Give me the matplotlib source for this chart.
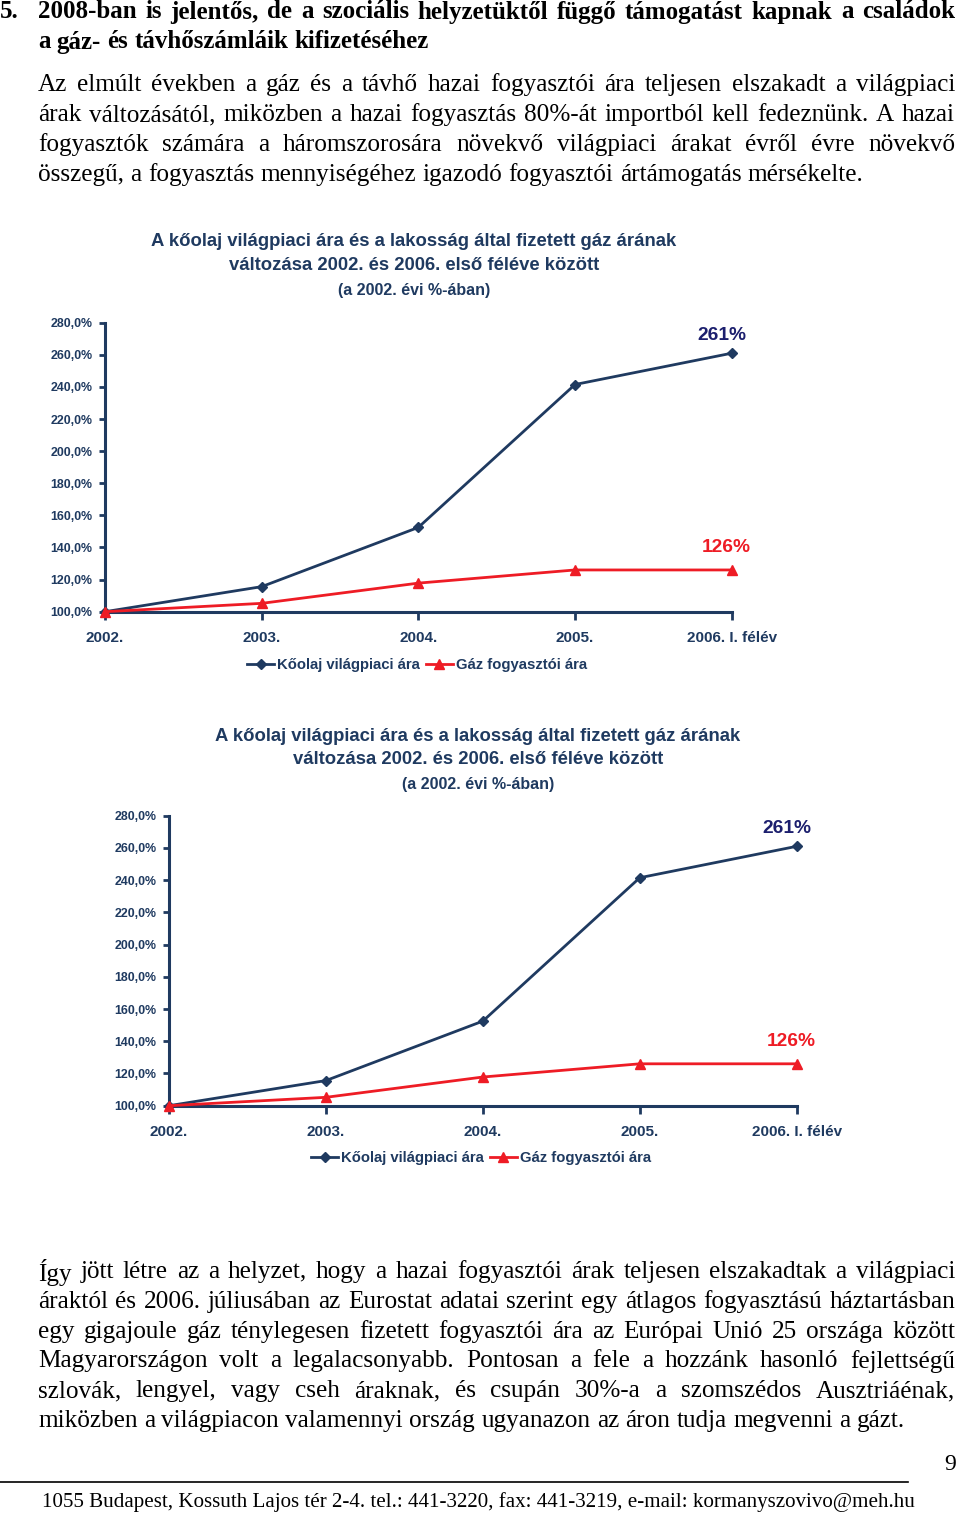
import matplotlib
matplotlib.use("Agg")
import matplotlib.pyplot as plt
from matplotlib.lines import Line2D

W, H = 960, 1515

# adatok
evek = ["2002.", "2003.", "2004.", "2005.", "2006. I. félév"]
olaj = [100, 115.6, 152.5, 241.5, 261]
gaz = [100, 105.2, 117.8, 126, 126]
y_ticks = [100, 120, 140, 160, 180, 200, 220, 240, 260, 280]
y_labels = [f"{v},0%" for v in y_ticks]

cim = ["A kőolaj világpiaci ára és a lakosság által fizetett gáz árának",
       "változása 2002. és 2006. első féléve között"]
alcim = "(a 2002. évi %-ában)"

fejlec = ["2008-ban is jelentős, de a szociális helyzetüktől függő támogatást kapnak a családok",
          "a gáz- és távhőszámláik kifizetéséhez"]
bekezdes1 = ["Az elmúlt években a gáz és a távhő hazai fogyasztói ára teljesen elszakadt a világpiaci",
             "árak változásától, miközben a hazai fogyasztás 80%-át importból kell fedeznünk. A hazai",
             "fogyasztók számára a háromszorosára növekvő világpiaci árakat évről évre növekvő",
             "összegű, a fogyasztás mennyiségéhez igazodó fogyasztói ártámogatás mérsékelte."]
bekezdes2 = ["Így jött létre az a helyzet, hogy a hazai fogyasztói árak teljesen elszakadtak a világpiaci",
             "áraktól és 2006. júliusában az Eurostat adatai szerint egy átlagos fogyasztású háztartásban",
             "egy gigajoule gáz ténylegesen fizetett fogyasztói ára az Európai Unió 25 országa között",
             "Magyarországon volt a legalacsonyabb. Pontosan a fele a hozzánk hasonló fejlettségű",
             "szlovák, lengyel, vagy cseh áraknak, és csupán 30%-a a szomszédos Ausztriáénak,",
             "miközben a világpiacon valamennyi ország ugyanazon az áron tudja megvenni a gázt."]
lablec = "1055 Budapest, Kossuth Lajos tér 2-4. tel.: 441-3220, fax: 441-3219, e-mail: kormanyszovivo@meh.hu"

NAVY = "#1F3A60"
RED = "#EE1C25"
SERIF = "Liberation Serif"
SANS = "Liberation Sans"

fig = plt.figure(figsize=(W / 100, H / 100), dpi=100)
renderer = fig.canvas.get_renderer()


def fx(x):
    return x / W


def fy(y):
    return 1 - y / H


def sor(szoveg, x0, x1, y, size, weight="normal", sorkizart=True):
    szavak = szoveg.split(" ")
    objs = [fig.text(fx(x0), fy(y), s, fontsize=size, fontweight=weight,
                     family=SERIF, va="center", ha="left") for s in szavak]
    szel = [o.get_window_extent(renderer).width for o in objs]
    if sorkizart and len(objs) > 1:
        koz = (x1 - x0 - sum(szel)) / (len(objs) - 1)
    else:
        sp = fig.text(0, 0, "a a", fontsize=size, fontweight=weight, family=SERIF)
        sp2 = fig.text(0, 0, "aa", fontsize=size, fontweight=weight, family=SERIF)
        koz = sp.get_window_extent(renderer).width - sp2.get_window_extent(renderer).width
        sp.remove()
        sp2.remove()
    x = x0
    for o, w in zip(objs, szel):
        o.set_x(fx(x))
        x += w + koz


# fejléc
fig.text(fx(0), fy(12), "5.", fontsize=18, fontweight="bold", family=SERIF, va="center")
sor(fejlec[0], 38, 955, 12, 18, "bold")
sor(fejlec[1], 38, 955, 42, 18, "bold", sorkizart=False)

for i, s in enumerate(bekezdes1):
    sor(s, 38, 955, 85 + 30 * i, 18.2, sorkizart=(i < len(bekezdes1) - 1))

for i, s in enumerate(bekezdes2):
    sor(s, 38, 955, 1272 + 29.8 * i, 18.2, sorkizart=(i < len(bekezdes2) - 1))

fig.add_artist(Line2D([0, fx(908)], [fy(1482), fy(1482)], color="black", lw=1.2))
fig.text(fx(950), fy(1465), "9", fontsize=17, family=SERIF, va="center", ha="center")
fig.text(fx(478), fy(1502), lablec, fontsize=15.1, family=SERIF, va="center", ha="center")


def diagram(x0, y_top, x1, y_bot, cim_x, cim_y, leg_x, leg_y):
    ax = fig.add_axes([fx(x0), fy(y_bot), fx(x1 - x0), (y_bot - y_top) / H])
    xs = list(range(len(evek)))
    ax.plot(xs, olaj, color=NAVY, lw=2, marker="D", ms=5, clip_on=False, zorder=3,
            label="Kőolaj világpiaci ára")
    ax.plot(xs, gaz, color=RED, lw=2, marker="^", ms=7, clip_on=False, zorder=4,
            label="Gáz fogyasztói ára")
    ax.set_xlim(0, len(evek) - 1)
    ax.set_ylim(100, 280)
    for s in ["top", "right"]:
        ax.spines[s].set_visible(False)
    for s in ["left", "bottom"]:
        ax.spines[s].set_color(NAVY)
        ax.spines[s].set_linewidth(2.2)
    ax.set_yticks(y_ticks)
    ax.set_yticklabels(y_labels, fontsize=8.9, fontweight="bold", color=NAVY, family=SANS)
    ax.set_xticks(xs)
    ax.set_xticklabels(evek, fontsize=11, fontweight="bold", color=NAVY, family=SANS)
    ax.tick_params(axis="y", length=4, width=2, color=NAVY, pad=5)
    ax.tick_params(axis="x", length=6, width=2, color=NAVY, pad=8)
    ax.patch.set_alpha(0)

    ax.annotate(f"{olaj[-1]:.0f}%", (xs[-1], olaj[-1]), xytext=(-10, 18),
                textcoords="offset pixels", ha="center", va="center",
                fontsize=13.8, fontweight="bold", color="#1C1F6E", family=SANS)
    ax.annotate(f"{gaz[-1]:.0f}%", (xs[-1], gaz[-1]), xytext=(-5, 22),
                textcoords="offset pixels", ha="center", va="center",
                fontsize=13.8, fontweight="bold", color=RED, family=SANS)

    fig.text(fx(cim_x), fy(cim_y), cim[0], fontsize=13.35, fontweight="bold",
             color=NAVY, family=SANS, ha="center", va="center")
    fig.text(fx(cim_x), fy(cim_y + 24), cim[1], fontsize=13.35, fontweight="bold",
             color=NAVY, family=SANS, ha="center", va="center")
    fig.text(fx(cim_x), fy(cim_y + 48), alcim, fontsize=11.5, fontweight="bold",
             color=NAVY, family=SANS, ha="center", va="center")

    leg = fig.legend(handles=ax.get_lines(), loc="center", bbox_to_anchor=(fx(leg_x), fy(leg_y)),
                     ncol=2, frameon=False, handlelength=1.8, handletextpad=0.2,
                     columnspacing=0.4, prop={"family": SANS, "weight": "bold", "size": 10.7})
    for t in leg.get_texts():
        t.set_color(NAVY)
    return ax


diagram(105, 322.7, 731.7, 611.7, 414, 242, 417, 665)
diagram(169, 815.7, 796.7, 1105.7, 478, 736, 481, 1158)

fig.savefig("out.png", dpi=100)
